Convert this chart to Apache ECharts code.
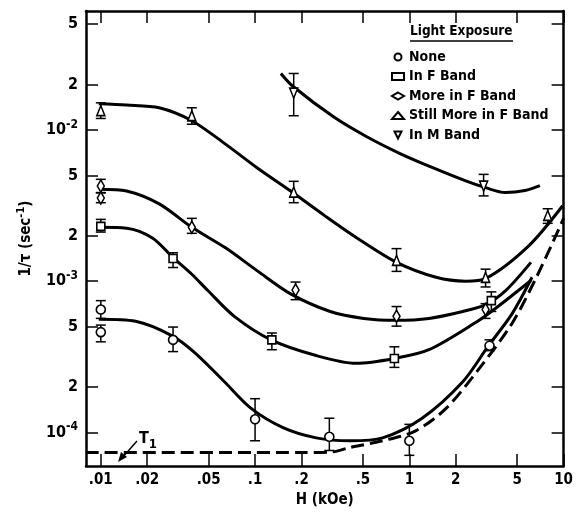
<!DOCTYPE html>
<html>
<head>
<meta charset="utf-8">
<script src="https://cdn.jsdelivr.net/npm/echarts@6/dist/echarts.min.js"></script>
<style>
  html, body { margin: 0; padding: 0; background: #fff; }
  #chart-container { width: 576px; height: 513px; }
</style>
</head>
<body>
<div id="chart-container"></div>
<script>
// axis ticks
var xTicks = [0.01, 0.02, 0.05, 0.1, 0.2, 0.5, 1, 2, 5, 10];
var xTickLabels = ['.01', '.02', '.05', '.1', '.2', '.5', '1', '2', '5', '10'];
var yTicks = [1e-4, 2e-4, 5e-4, 1e-3, 2e-3, 5e-3, 1e-2, 2e-2, 5e-2];
var yTickLabels = ['10{s|-4}', '2', '5', '10{s|-3}', '2', '5', '10{s|-2}', '2', '5'];

var seriesNames = ['None', 'In F Band', 'More in F Band', 'Still More in F Band', 'In M Band'];

// measured points: [H (kOe), 1/tau, low, high]
var noneData = [
    [0.01, 6.49e-4, 5.67e-4, 7.43e-4], [0.01, 4.6e-4, 3.97e-4, 5.12e-4],
    [0.0294, 4.09e-4, 3.42e-4, 4.97e-4], [0.1, 1.22e-4, 8.8e-5, 1.67e-4],
    [0.303, 9.35e-5, 7.59e-5, 1.24e-4], [1.0, 8.8e-5, 7.05e-5, 1.13e-4],
    [3.31, 3.74e-4, 3.47e-4, 4.09e-4]
];
var fBandData = [
    [0.01, 2.3e-3, 2.11e-3, 2.56e-3], [0.0294, 1.41e-3, 1.23e-3, 1.54e-3],
    [0.1285, 4.09e-4, 3.52e-4, 4.54e-4], [0.80, 3.08e-4, 2.69e-4, 3.68e-4],
    [3.40, 7.43e-4, 6.3e-4, 8.49e-4]
];
var moreFData = [
    [0.01, 4.25e-3, 3.83e-3, 4.71e-3], [0.01, 3.55e-3, 3.3e-3, 3.85e-3],
    [0.0389, 2.27e-3, 2.07e-3, 2.6e-3], [0.183, 8.74e-4, 7.54e-4, 9.86e-4],
    [0.826, 5.85e-4, 5.04e-4, 6.79e-4], [3.12, 6.49e-4, 5.67e-4, 7.1e-4]
];
var stillMoreData = [
    [0.01, 1.34e-2, 1.19e-2, 1.51e-2], [0.0389, 1.24e-2, 1.09e-2, 1.4e-2],
    [0.178, 3.88e-3, 3.3e-3, 4.57e-3], [0.826, 1.37e-3, 1.16e-3, 1.64e-3],
    [3.12, 1.06e-3, 9.15e-4, 1.2e-3], [7.89, 2.72e-3, 2.41e-3, 3.01e-3]
];
var mBandData = [
    [0.178, 1.75e-2, 1.24e-2, 2.36e-2], [3.03, 4.25e-3, 3.66e-3, 5.08e-3]
];

// fitted curves: [H (kOe), 1/tau]
var noneCurve = [[0.0097, 5.6e-4], [0.0168, 5.43e-4], [0.029, 4.35e-4], [0.0406, 3.37e-4], [0.0633, 2.16e-4],
    [0.0943, 1.44e-4], [0.153, 1.07e-4], [0.249, 9.2e-5], [0.412, 8.8e-5], [0.671, 9.2e-5], [1.21, 1.24e-4],
    [2.22, 2.16e-4], [3.26, 3.74e-4], [4.64, 6.1e-4], [6.24, 1.06e-3]];
var fBandCurve = [[0.0099, 2.27e-3], [0.0147, 2.24e-3], [0.0216, 1.93e-3], [0.0294, 1.43e-3], [0.0389, 1.11e-3],
    [0.0492, 8.7e-4], [0.0733, 5.85e-4], [0.127, 4.09e-4], [0.249, 3.22e-4], [0.451, 2.86e-4], [0.80, 3.08e-4],
    [1.34, 3.52e-4], [2.77, 5.43e-4], [3.61, 6.59e-4], [6.14, 1.01e-3]];
var moreFCurve = [[0.0099, 4.05e-3], [0.0147, 3.94e-3], [0.0239, 3.24e-3], [0.0389, 2.27e-3], [0.0643, 1.66e-3],
    [0.1045, 1.16e-3], [0.170, 8.24e-4], [0.307, 6.3e-4], [0.507, 5.67e-4], [0.826, 5.51e-4], [1.34, 5.67e-4],
    [2.22, 6.3e-4], [3.12, 7.0e-4], [4.19, 8.61e-4], [6.14, 1.33e-3]];
var stillMoreCurve = [[0.0097, 1.49e-2], [0.0147, 1.46e-2], [0.0239, 1.4e-2], [0.0389, 1.15e-2], [0.0643, 8.05e-3],
    [0.1045, 5.55e-3], [0.170, 3.94e-3], [0.281, 2.72e-3], [0.457, 1.93e-3], [0.826, 1.33e-3], [1.49, 1.06e-3],
    [2.32, 1.0e-3], [3.12, 1.04e-3], [5.87, 1.69e-3], [9.86, 3.15e-3]];
var mBandCurve = [[0.147, 2.36e-2], [0.175, 1.95e-2], [0.326, 1.21e-2], [0.53, 9.0e-3], [0.863, 7.0e-3],
    [1.43, 5.6e-3], [2.32, 4.6e-3], [3.12, 4.15e-3], [4.19, 3.85e-3], [5.62, 3.97e-3], [7.02, 4.28e-3]];
var t1Curve = [[0.008, 7.36e-5], [0.2, 7.36e-5], [0.306, 7.4e-5], [0.412, 7.94e-5], [0.671, 8.8e-5],
    [1.09, 1.02e-4], [1.73, 1.44e-4], [2.81, 2.61e-4], [4.64, 5.27e-4], [6.81, 1.11e-3], [10, 2.6e-3]];

var FONT = "'Liberation Sans Narrow', 'DejaVu Sans Condensed', sans-serif";

var dom = document.getElementById('chart-container');
var myChart = echarts.init(dom, null, { renderer: 'canvas' });

function lg(v) { return Math.log10(v); }
function toLog(arr) { return arr.map(function (p) { return [lg(p[0]), lg(p[1])]; }); }

function labelFor(ticks, labels) {
    return function (val) {
        for (var i = 0; i < ticks.length; i++) {
            if (Math.abs(lg(ticks[i]) - val) < 1e-6) return labels[i];
        }
        return '';
    };
}

var downTriangle = 'path://M0,0 L10,0 L5,10 Z';

var markerDefs = [
    { data: noneData, curve: noneCurve, symbol: 'circle', size: 9 },
    { data: fBandData, curve: fBandCurve, symbol: 'rect', size: 8 },
    { data: moreFData, curve: moreFCurve, symbol: 'diamond', size: [7, 12] },
    { data: stillMoreData, curve: stillMoreCurve, symbol: 'triangle', size: [8, 10] },
    { data: mBandData, curve: mBandCurve, symbol: downTriangle, size: [8, 10] }
];

function errorBars(params, api) {
    var x = api.value(0);
    var lo = api.coord([x, api.value(1)]);
    var hi = api.coord([x, api.value(2)]);
    var w = 5;
    var st = { stroke: '#000', lineWidth: 1.5 };
    return {
        type: 'group',
        children: [
            { type: 'line', shape: { x1: lo[0], y1: lo[1], x2: hi[0], y2: hi[1] }, style: st },
            { type: 'line', shape: { x1: lo[0] - w, y1: lo[1], x2: lo[0] + w, y2: lo[1] }, style: st },
            { type: 'line', shape: { x1: hi[0] - w, y1: hi[1], x2: hi[0] + w, y2: hi[1] }, style: st }
        ]
    };
}

var series = [];
markerDefs.forEach(function (d, i) {
    series.push({
        name: seriesNames[i] + ' fit',
        type: 'line',
        data: toLog(d.curve),
        smooth: 0.3,
        showSymbol: false,
        lineStyle: { color: '#000', width: 3 },
        z: 2,
        silent: true
    });
    series.push({
        name: seriesNames[i] + ' err',
        type: 'custom',
        renderItem: errorBars,
        encode: { x: 0, y: [1, 2] },
        data: d.data.map(function (p) { return [lg(p[0]), lg(p[2]), lg(p[3])]; }),
        z: 3,
        silent: true
    });
    series.push({
        name: seriesNames[i],
        type: 'scatter',
        data: d.data.map(function (p) { return [lg(p[0]), lg(p[1])]; }),
        symbol: d.symbol,
        symbolSize: d.size,
        itemStyle: { color: '#fff', borderColor: '#000', borderWidth: 1.6, opacity: 1 },
        z: 4,
        silent: true
    });
});
series.push({
    name: 'T1',
    type: 'line',
    data: toLog(t1Curve),
    smooth: 0.3,
    showSymbol: false,
    lineStyle: { color: '#000', width: 3, type: [13, 6] },
    z: 2,
    silent: true
});

var xTickVals = xTicks.map(lg);
var yTickVals = yTicks.map(lg);

var axisCommon = {
    type: 'value',
    splitLine: { show: false },
    axisLine: { show: true, onZero: false, lineStyle: { color: '#000', width: 2.5 } }
};

var option = {
    backgroundColor: '#fff',
    animation: false,
    grid: { left: 86, right: 7, top: 11, bottom: 37 },
    xAxis: [
        Object.assign({}, axisCommon, {
            min: -2.096, max: 1.0,
            position: 'bottom',
            name: 'H (kOe)', nameLocation: 'middle', nameGap: 21,
            nameTextStyle: { fontFamily: FONT, fontSize: 15, fontWeight: 'bold', color: '#000' },
            axisTick: { show: true, inside: true, length: 12, customValues: xTickVals, lineStyle: { color: '#000', width: 1.5 } },
            axisLabel: {
                customValues: xTickVals, margin: 7,
                fontFamily: FONT, fontSize: 15, fontWeight: 'bold', color: '#000',
                formatter: labelFor(xTicks, xTickLabels)
            }
        }),
        Object.assign({}, axisCommon, {
            min: -2.096, max: 1.0,
            position: 'top',
            axisTick: { show: true, inside: true, length: 12, customValues: xTickVals, lineStyle: { color: '#000', width: 1.5 } },
            axisLabel: { show: false }
        })
    ],
    yAxis: [
        Object.assign({}, axisCommon, {
            min: -4.223, max: -1.214,
            position: 'left',
            name: '1/\u03c4 (sec{s|-1})', nameLocation: 'middle', nameGap: 49, nameRotate: 90,
            nameTextStyle: {
                fontFamily: FONT, fontSize: 15, fontWeight: 'bold', color: '#000',
                rich: {
                    s: { fontFamily: FONT, fontSize: 11, fontWeight: 'bold', color: '#000', padding: [0, 0, 10, 0] }
                }
            },
            axisTick: { show: true, inside: true, length: 12, customValues: yTickVals, lineStyle: { color: '#000', width: 1.5 } },
            axisLabel: {
                customValues: yTickVals, margin: 8,
                fontFamily: FONT, fontSize: 16, fontWeight: 'bold', color: '#000',
                formatter: labelFor(yTicks, yTickLabels),
                rich: {
                    s: { fontFamily: FONT, fontSize: 12, fontWeight: 'bold', color: '#000', padding: [0, 0, 11, 0] }
                }
            }
        }),
        Object.assign({}, axisCommon, {
            min: -4.223, max: -1.214,
            position: 'right',
            axisTick: { show: true, inside: true, length: 12, customValues: yTickVals, lineStyle: { color: '#000', width: 1.5 } },
            axisLabel: { show: false }
        })
    ],
    legend: {
        data: seriesNames,
        orient: 'vertical',
        left: 386, top: 44,
        itemWidth: 12, itemHeight: 7,
        itemGap: 3.5,
        selectedMode: false,
        textStyle: { fontFamily: FONT, fontSize: 14, fontWeight: 'bold', color: '#000', lineHeight: 16 }
    },
    graphic: [
        {
            type: 'text', left: 410, top: 24,
            style: { text: 'Light Exposure', font: 'bold 13.5px ' + FONT, fill: '#000' }
        },
        {
            type: 'line', shape: { x1: 410, y1: 41, x2: 513, y2: 41 },
            style: { stroke: '#000', lineWidth: 1.5 }
        },
        {
            type: 'text', left: 139, top: 431,
            style: {
                text: 'T{s|1}', font: 'bold 16px ' + FONT, fill: '#000',
                rich: { s: { font: 'bold 13px ' + FONT, fill: '#000', padding: [12, 0, 0, 0] } }
            }
        },
        {
            type: 'line', shape: { x1: 137, y1: 441, x2: 122, y2: 458 },
            style: { stroke: '#000', lineWidth: 1.5 }
        },
        {
            type: 'polygon', shape: { points: [[118, 462], [121, 452], [127, 457]] },
            style: { fill: '#000' }
        }
    ],
    series: series
};

myChart.setOption(option);
window.addEventListener('resize', myChart.resize);
</script>
</body>
</html>
